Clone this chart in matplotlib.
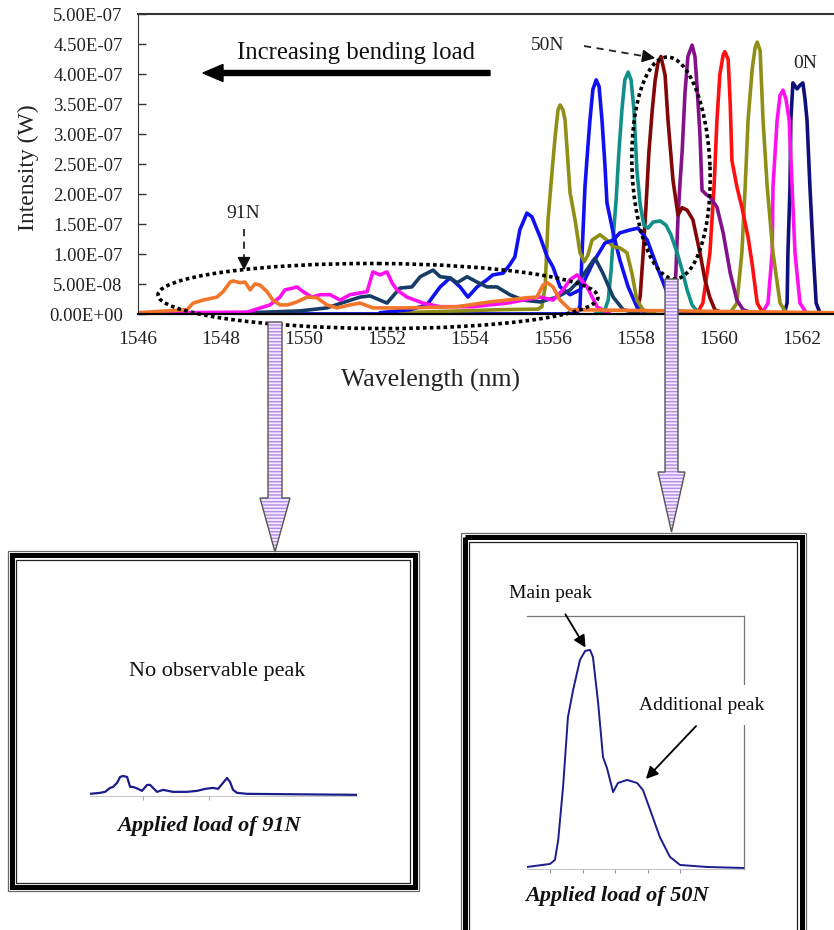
import matplotlib
matplotlib.use("Agg")
import matplotlib.pyplot as plt
from matplotlib.patches import Ellipse, Polygon, Rectangle, FancyArrow
from matplotlib.ticker import FuncFormatter

plt.rcParams["font.family"] = ["Liberation Serif", "DejaVu Serif"]
plt.rcParams["hatch.linewidth"] = 1.0

# spectra: wavelength (nm), intensity (x 1e-7 W)
wl_0n = [1560.99, 1561.47, 1561.59, 1561.64, 1561.66, 1561.71, 1561.73, 1561.78, 1561.88,
         1561.95, 1562.02, 1562.07, 1562.12, 1562.19, 1562.27, 1562.34, 1562.43, 1562.77]
i_0n = [0.01, 0.02, 0.06, 0.19, 1.03, 2.13, 3.24, 3.86, 3.76, 3.82, 3.86, 3.6, 3.24, 2.13,
        1.03, 0.19, 0.03, 0.01]

wl_magenta = [1560.51, 1561.04, 1561.18, 1561.28, 1561.30, 1561.40, 1561.47, 1561.54,
              1561.61, 1561.69, 1561.76, 1561.83, 1561.95, 1562.10, 1562.31]
i_magenta = [0.01, 0.03, 0.19, 1.03, 2.13, 3.24, 3.65, 3.74, 3.6, 3.24, 2.13, 1.03, 0.19,
             0.03, 0.01]

wl_olive = [1559.54, 1560.27, 1560.43, 1560.55, 1560.63, 1560.70, 1560.80, 1560.87, 1560.92,
            1560.99, 1561.06, 1561.16, 1561.30, 1561.47, 1561.61, 1561.83]
i_olive = [0.01, 0.03, 0.19, 1.03, 2.13, 3.24, 4.1, 4.45, 4.54, 4.4, 3.24, 2.13, 1.03, 0.19,
           0.04, 0.01]

wl_red = [1559.30, 1559.49, 1559.61, 1559.78, 1559.88, 1559.95, 1560.02, 1560.10, 1560.14,
          1560.22, 1560.27, 1560.31, 1560.43, 1560.55, 1560.70, 1560.80, 1560.92, 1561.04,
          1561.23]
i_red = [0.01, 0.04, 0.19, 1.03, 2.13, 3.24, 4.0, 4.33, 4.38, 4.25, 3.5, 2.57, 2.13, 1.79,
         1.29, 0.83, 0.19, 0.05, 0.01]

wl_purple = [1558.70, 1558.84, 1558.92, 1558.96, 1559.01, 1559.06, 1559.11, 1559.18, 1559.25,
             1559.35, 1559.42, 1559.47, 1559.54, 1559.59, 1559.69, 1559.78, 1559.95, 1560.10,
             1560.27, 1560.43, 1560.58, 1560.87]
i_purple = [0.01, 0.05, 0.2, 0.7, 1.6, 2.2, 2.7, 3.7, 4.3, 4.49, 4.3, 3.8, 3.0, 2.07, 2.0,
            1.96, 1.79, 1.36, 0.69, 0.24, 0.08, 0.01]

wl_50n = [1557.86, 1558.02, 1558.10, 1558.17, 1558.24, 1558.31, 1558.39, 1558.46, 1558.53,
          1558.60, 1558.70, 1558.77, 1558.89, 1559.01, 1559.11, 1559.23, 1559.37, 1559.54,
          1559.66, 1559.78, 1559.90, 1560.14]
i_50n = [0.01, 0.05, 0.3, 1.0, 1.8, 2.7, 3.4, 3.9, 4.2, 4.3, 3.99, 3.24, 2.24, 1.66, 1.78,
         1.74, 1.58, 1.03, 0.58, 0.28, 0.08, 0.01]

wl_teal = [1557.01, 1557.23, 1557.33, 1557.40, 1557.45, 1557.52, 1557.59, 1557.66, 1557.73,
           1557.81, 1557.88, 1557.95, 1558.02, 1558.10, 1558.19, 1558.29, 1558.41, 1558.58,
           1558.72, 1558.84, 1558.99, 1559.11, 1559.23, 1559.35, 1559.49, 1559.78]
i_teal = [0.01, 0.04, 0.24, 0.74, 1.29, 1.91, 2.74, 3.41, 3.91, 4.04, 3.91, 3.41, 2.41, 1.83,
          1.49, 1.44, 1.54, 1.56, 1.49, 1.33, 1.03, 0.74, 0.41, 0.16, 0.04, 0.01]

wl_blue = [1548.0, 1556.41, 1556.60, 1556.65, 1556.70, 1556.77, 1556.84, 1556.89, 1556.96,
           1557.04, 1557.11, 1557.18, 1557.25, 1557.30, 1557.45, 1557.61, 1557.81, 1558.02,
           1558.22, 1558.46]
i_blue = [0.01, 0.01, 0.05, 0.15, 1.03, 2.13, 2.8, 3.24, 3.75, 3.91, 3.8, 3.24, 2.5, 1.86,
          1.36, 0.91, 0.46, 0.13, 0.03, 0.01]

wl_olive2 = [1552.31, 1554.72, 1555.64, 1555.73, 1555.81, 1555.88, 1555.98, 1556.05, 1556.12,
             1556.17, 1556.24, 1556.29, 1556.41, 1556.53, 1556.65, 1556.75, 1556.84, 1556.94,
             1557.13, 1557.30, 1557.45, 1557.61, 1557.78, 1557.90, 1558.02, 1558.17, 1558.46]
i_olive2 = [0.03, 0.08, 0.09, 0.13, 0.46, 1.58, 2.41, 2.96, 3.41, 3.49, 3.41, 3.24, 2.03, 1.58,
            1.03, 0.88, 0.99, 1.24, 1.33, 1.24, 1.13, 1.11, 1.03, 0.69, 0.24, 0.08, 0.01]

wl_blue2 = [1551.83, 1552.55, 1552.96, 1553.28, 1553.52, 1553.76, 1553.95, 1554.17, 1554.41,
            1554.55, 1554.80, 1554.96, 1555.08, 1555.20, 1555.37, 1555.49, 1555.69, 1555.86,
            1556.00, 1556.17, 1556.41, 1556.65, 1556.96, 1557.25, 1557.45, 1557.61, 1557.86,
            1558.05, 1558.27, 1558.51, 1558.75, 1558.94, 1559.30]
i_blue2 = [0.03, 0.08, 0.16, 0.46, 0.61, 0.46, 0.29, 0.46, 0.58, 0.66, 0.69, 0.83, 0.96, 1.41,
           1.69, 1.63, 1.29, 0.96, 0.79, 0.46, 0.33, 0.41, 0.86, 1.19, 1.24, 1.36, 1.41, 1.44,
           1.24, 0.79, 0.36, 0.08, 0.01]

wl_slate = [1546.0, 1548.70, 1549.90, 1550.55, 1550.99, 1551.35, 1551.59, 1552.00, 1552.31,
            1552.60, 1552.80, 1553.11, 1553.28, 1553.52, 1553.69, 1553.93, 1554.17, 1554.41,
            1554.65, 1554.96, 1555.28, 1555.69, 1556.10, 1556.41, 1556.65, 1557.01, 1557.20,
            1557.45, 1557.69, 1558.10]
i_slate = [0.01, 0.03, 0.06, 0.11, 0.21, 0.29, 0.31, 0.19, 0.44, 0.46, 0.63, 0.74, 0.63, 0.61,
           0.53, 0.63, 0.54, 0.46, 0.46, 0.33, 0.24, 0.21, 0.29, 0.41, 0.58, 0.94, 0.69, 0.29,
           0.08, 0.01]

wl_magenta2 = [1546.0, 1547.08, 1548.63, 1549.18, 1549.42, 1549.54, 1549.73, 1549.83, 1549.98,
               1550.19, 1550.39, 1550.63, 1550.87, 1551.11, 1551.35, 1551.52, 1551.66, 1551.83,
               1552.00, 1552.12, 1552.24, 1552.48, 1552.87, 1553.28, 1554.07, 1554.48, 1554.89,
               1555.28, 1555.69, 1556.00, 1556.24, 1556.41, 1556.58, 1556.82, 1557.06, 1557.37]
i_magenta2 = [0.01, 0.03, 0.04, 0.16, 0.29, 0.41, 0.44, 0.46, 0.38, 0.29, 0.33, 0.33, 0.24,
              0.33, 0.36, 0.38, 0.71, 0.66, 0.71, 0.53, 0.41, 0.29, 0.19, 0.13, 0.13, 0.16,
              0.19, 0.24, 0.29, 0.24, 0.41, 0.58, 0.66, 0.46, 0.13, 0.01]

wl_91n = [1546.0, 1547.18, 1547.33, 1547.57, 1547.90, 1548.05, 1548.22, 1548.29, 1548.46,
          1548.58, 1548.70, 1548.82, 1548.94, 1549.11, 1549.25, 1549.42, 1549.61, 1549.83,
          1550.07, 1550.31, 1550.55, 1550.80, 1551.11, 1551.35, 1551.66, 1552.48, 1553.69,
          1554.48, 1554.89, 1555.37, 1555.61, 1555.76, 1555.86, 1556.00, 1556.17, 1556.41,
          1562.77]
i_91n = [0.03, 0.08, 0.19, 0.24, 0.29, 0.38, 0.54, 0.56, 0.53, 0.54, 0.41, 0.51, 0.49, 0.38,
         0.24, 0.16, 0.16, 0.21, 0.29, 0.28, 0.16, 0.11, 0.16, 0.19, 0.11, 0.11, 0.13, 0.21,
         0.24, 0.28, 0.29, 0.49, 0.53, 0.46, 0.24, 0.08, 0.03]

series = [
    (wl_0n, i_0n, "#10107a"),
    (wl_magenta, i_magenta, "#ff10f0"),
    (wl_olive, i_olive, "#8f8f18"),
    (wl_red, i_red, "#ff1010"),
    (wl_purple, i_purple, "#84118a"),
    (wl_50n, i_50n, "#820808"),
    (wl_teal, i_teal, "#11908a"),
    (wl_blue, i_blue, "#1010f0"),
    (wl_olive2, i_olive2, "#8f8f18"),
    (wl_blue2, i_blue2, "#1010f0"),
    (wl_slate, i_slate, "#183c68"),
    (wl_magenta2, i_magenta2, "#ff10f0"),
    (wl_91n, i_91n, "#f2762a"),
]

# zoomed insets
wl_in50 = [1556.29, 1557.0, 1557.15, 1557.25, 1557.40, 1557.55, 1557.71, 1557.92, 1558.08,
           1558.23, 1558.32, 1558.48, 1558.63, 1558.75, 1558.94, 1559.09, 1559.37, 1559.68,
           1559.86, 1560.08, 1560.38, 1560.69, 1561.0, 1561.83, 1562.97]
i_in50 = [0.04, 0.10, 0.18, 0.57, 1.62, 3.00, 3.54, 4.13, 4.31, 4.33, 4.19, 3.28, 2.21, 2.00,
          1.52, 1.70, 1.76, 1.70, 1.56, 1.17, 0.63, 0.24, 0.08, 0.04, 0.02]

wl_in91 = [1545.98, 1546.74, 1547.12, 1547.5, 1547.73, 1548.03, 1548.26, 1548.48, 1548.79,
           1549.02, 1549.24, 1549.62, 1549.92, 1550.30, 1550.53, 1551.06, 1551.52, 1552.27,
           1553.33, 1554.09, 1554.70, 1555.30, 1555.68, 1556.06, 1556.36, 1556.59, 1556.82,
           1557.12, 1557.88, 1566.21]
i_in91 = [0.05, 0.08, 0.11, 0.23, 0.26, 0.38, 0.56, 0.59, 0.56, 0.26, 0.26, 0.20, 0.14, 0.32,
          0.32, 0.11, 0.17, 0.11, 0.11, 0.14, 0.20, 0.23, 0.20, 0.38, 0.53, 0.41, 0.17, 0.08,
          0.05, 0.02]

SCALE = 1e-7
W, H = 834, 930
fig = plt.figure(figsize=(W / 100, H / 100), dpi=100)


def box(x0, y0, x1, y1):
    # pixel box (origin top-left) -> figure fraction rect
    return [x0 / W, 1 - y1 / H, (x1 - x0) / W, (y1 - y0) / H]


# main spectrum plot
ax = fig.add_axes(box(138, 14.5, 834, 314.5))
for wl, inten, color in series:
    ax.plot(wl, [v * SCALE for v in inten], color=color, lw=2.6,
            solid_joinstyle="round", solid_capstyle="round")
ax.set_xlim(1546, 1562.77)
ax.set_ylim(0, 5e-7)
ax.set_xticks(range(1546, 1563, 2))
ax.set_yticks([i * 0.5e-7 for i in range(11)])
ax.yaxis.set_major_formatter(FuncFormatter(lambda v, p: f"{v:.2E}"))
ax.tick_params(axis="y", direction="in", length=6, width=1, labelsize=13.5, pad=11,
               colors="#333", labelcolor="#222")
ax.tick_params(axis="x", length=0, labelsize=14, pad=12, labelcolor="#222")
ax.spines["right"].set_visible(False)
ax.spines["top"].set_color("#333")
ax.spines["top"].set_linewidth(1.5)
ax.spines["left"].set_color("#333")
ax.spines["bottom"].set_linewidth(1.6)
ax.set_xlabel("Wavelength (nm)", fontsize=18.5, color="#222")
ax.set_ylabel("Intensity (W)", fontsize=17, color="#222")
ax.xaxis.set_label_coords(0.42, -0.183)
ax.yaxis.set_label_coords(-0.142, 0.49)

# inset for 50N
ax50 = fig.add_axes(box(527, 616, 744, 869))
ax50.plot(wl_in50, [v * SCALE for v in i_in50], color="#1c1c8c", lw=1.4)
ax50.set_xlim(1556.29, 1562.97)
ax50.set_ylim(0, 5e-7)
ax50.set_xticks(range(1557, 1562))
ax50.set_yticks([])
ax50.tick_params(axis="x", length=3, color="#999", labelbottom=False)
ax50.spines["left"].set_visible(False)
for s in ["top", "right"]:
    ax50.spines[s].set_color("#777")
    ax50.spines[s].set_linewidth(0.9)
ax50.spines["bottom"].set_color("#bbb")
ax50.spines["bottom"].set_linewidth(0.6)

# inset for 91N
ax91 = fig.add_axes(box(90, 630, 357, 795.5))
ax91.plot(wl_in91, [v * SCALE for v in i_in91], color="#1c1c8c", lw=1.6)
ax91.set_xlim(1545.98, 1566.21)
ax91.set_ylim(0, 5e-7)
ax91.set_xticks([1550, 1555])
ax91.set_yticks([])
ax91.tick_params(axis="x", length=3, color="#aaa", labelbottom=False)
for s in ["left", "top", "right"]:
    ax91.spines[s].set_visible(False)
ax91.spines["bottom"].set_color("#bbb")
ax91.spines["bottom"].set_linewidth(0.6)

# overlay in pixel units for arrows, ellipses, frames and notes
ov = fig.add_axes([0, 0, 1, 1], zorder=10)
ov.set_xlim(0, W)
ov.set_ylim(H, 0)
ov.axis("off")

ov.text(356, 53, "Increasing bending load", fontsize=17.8, ha="center", va="center",
        color="#111")
ov.add_patch(FancyArrow(490, 73, -287, 0, width=5, head_width=17, head_length=20,
                        length_includes_head=True, color="black"))

ov.text(548, 45, "50N", fontsize=14, ha="center", va="center", color="#222")
ov.plot([584, 646], [46, 56.5], ls="--", color="#222", lw=1.3, dashes=(4, 3))
ov.annotate("", xy=(658, 58.5), xytext=(644, 56.2),
            arrowprops=dict(arrowstyle="-|>", color="#111", lw=1, mutation_scale=20))
ov.text(805, 63, "0N", fontsize=14, ha="center", va="center", color="#222")
ov.text(243, 213, "91N", fontsize=14, ha="center", va="center", color="#222")
ov.plot([244, 244], [229, 262], ls="--", color="#222", lw=1.3, dashes=(4, 3))
ov.annotate("", xy=(244, 273), xytext=(244, 259),
            arrowprops=dict(arrowstyle="-|>", color="#111", lw=1, mutation_scale=20))

dots = dict(fill=False, ec="black", lw=2.6, ls=(0, (1, 0.9)))
ov.add_patch(Ellipse((378, 296), 440, 65, angle=0.3, **dots))
ov.add_patch(Ellipse((671, 168), 222, 78, angle=87.9, **dots))

# striped pointer arrows
arrows = [
    [(268, 322), (282, 322), (282, 498), (290, 498), (275, 552), (260, 498), (268, 498)],
    [(665, 279), (678, 279), (678, 472), (685, 472), (671.5, 532), (658, 472), (665, 472)],
]
for pts in arrows:
    ov.add_patch(Polygon(pts, closed=True, fc="#f4e8ff", ec="#b28be4", lw=0, hatch="-----"))
    ov.add_patch(Polygon(pts, closed=True, fill=False, ec="#555", lw=1.0))


def frame(x0, y0, x1, y1):
    ov.add_patch(Rectangle((x0, y0), x1 - x0, y1 - y0, fill=False, ec="#666", lw=0.9))
    ov.add_patch(Rectangle((x0 + 4, y0 + 4), x1 - x0 - 8, y1 - y0 - 8, fill=False,
                           ec="black", lw=3.6))
    ov.add_patch(Rectangle((x0 + 8.5, y0 + 8.5), x1 - x0 - 17, y1 - y0 - 17, fill=False,
                           ec="#222", lw=0.9))


frame(8, 551, 419, 891)
frame(461, 533, 806, 975)

ov.text(217, 671, "No observable peak", fontsize=16, ha="center", va="center", color="#111")
ov.text(209, 826, "Applied load of 91N", fontsize=16, ha="center", va="center",
        fontweight="bold", style="italic", color="#111")

ov.text(551, 593, "Main peak", fontsize=14, ha="center", va="center", color="#111")
ov.annotate("", xy=(587, 650), xytext=(564, 612),
            arrowprops=dict(arrowstyle="-|>", color="black", lw=1.3, mutation_scale=18))
ov.text(702, 705, "Additional peak", fontsize=14, ha="center", va="center", color="#111",
        bbox=dict(boxstyle="square,pad=0.6", fc="white", ec="none"))
ov.annotate("", xy=(644, 781), xytext=(698, 724),
            arrowprops=dict(arrowstyle="-|>", color="black", lw=1.3, mutation_scale=18))
ov.text(617, 896, "Applied load of 50N", fontsize=16, ha="center", va="center",
        fontweight="bold", style="italic", color="#111")

fig.savefig("out.png", dpi=100)
